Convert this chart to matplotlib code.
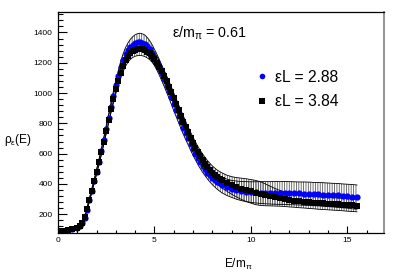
import numpy as np
import matplotlib
matplotlib.use("Agg")
import matplotlib.pyplot as plt
from matplotlib.ticker import MultipleLocator

plt.rcParams['font.family'] = ['Liberation Sans', 'DejaVu Sans']
plt.rcParams['mathtext.fontset'] = 'custom'
plt.rcParams['mathtext.rm'] = 'Liberation Sans'
plt.rcParams['mathtext.it'] = 'Liberation Sans'
plt.rcParams['mathtext.default'] = 'regular'
plt.rcParams['hatch.linewidth'] = 0.6

# energy grid E/m_pi (finer where the curve is steep)
energy = [0.0, 0.25, 0.5, 0.75,
          1.0, 1.125, 1.25, 1.375, 1.5, 1.625, 1.75, 1.875,
          2.0, 2.125, 2.25, 2.375, 2.5, 2.625, 2.75, 2.875,
          3.0, 3.125, 3.25, 3.375, 3.5, 3.625, 3.75, 3.875,
          4.0, 4.125, 4.25, 4.375, 4.5, 4.625, 4.75, 4.875,
          5.0, 5.125, 5.25, 5.375, 5.5, 5.625, 5.75, 5.875,
          6.0, 6.125, 6.25, 6.375, 6.5, 6.625, 6.75, 6.875,
          7.0, 7.125, 7.25, 7.375, 7.5, 7.625, 7.75, 7.875,
          8.0, 8.125, 8.25, 8.375, 8.5,
          8.75, 9.0, 9.25, 9.5, 9.75, 10.0, 10.25, 10.5, 10.75,
          11.0, 11.25, 11.5, 11.75, 12.0, 12.25, 12.5, 12.75,
          13.0, 13.25, 13.5, 13.75, 14.0, 14.25, 14.5, 14.75,
          15.0, 15.25, 15.5]

# eps L = 2.88 (blue)
rho_288 = [88, 91, 95, 101,
           110, 122, 140, 175, 230, 292, 355, 418,
           480, 547, 615, 687, 760, 835, 910, 982,
           1050, 1112, 1170, 1217, 1255, 1283, 1305, 1320,
           1330, 1335, 1337, 1333, 1325, 1310, 1290, 1265,
           1235, 1204, 1170, 1133, 1095, 1055, 1015, 973,
           930, 890, 850, 810, 770, 735, 700, 665,
           630, 600, 570, 543, 518, 496, 475, 457,
           440, 426, 413, 403, 393,
           378, 367, 359, 353, 349, 346, 344, 343, 342,
           341, 341, 340, 340, 339, 338, 337, 336,
           335, 333, 332, 330, 328, 326, 324, 321,
           319, 316, 313]
err_288 = [3, 3, 3, 3,
           3, 4, 5, 6, 8, 10, 12, 13,
           15, 17, 20, 22, 25, 27, 30, 32,
           35, 37, 40, 42, 45, 47, 50, 52,
           55, 57, 58, 58, 58, 57, 56, 55,
           54, 53, 52, 51, 50, 49, 48, 47,
           46, 46, 45, 45, 44, 44, 43, 43,
           42, 42, 42, 42, 42, 42, 43, 44,
           45, 46, 48, 50, 52,
           54, 56, 60, 63, 66, 68, 70, 72, 73,
           74, 75, 75, 76, 76, 76, 76, 77,
           77, 77, 77, 78, 78, 78, 79, 79,
           79, 80, 80]

# eps L = 3.84 (black)
rho_384 = [88, 92, 96, 102,
           112, 125, 145, 182, 235, 295, 355, 416,
           478, 543, 610, 680, 752, 824, 895, 962,
           1025, 1082, 1135, 1178, 1215, 1242, 1262, 1276,
           1285, 1289, 1290, 1288, 1283, 1274, 1262, 1245,
           1225, 1201, 1175, 1145, 1112, 1078, 1042, 1004,
           965, 927, 888, 850, 812, 776, 740, 705,
           672, 640, 610, 583, 557, 534, 512, 493,
           475, 460, 446, 434, 423,
           405, 390, 378, 368, 359, 351, 343, 336, 328,
           320, 312, 305, 299, 294, 290, 286, 283,
           280, 277, 274, 272, 270, 268, 266, 264,
           261, 259, 257]
err_384 = [3, 3, 3, 3,
           3, 4, 5, 6, 8, 9, 10, 11,
           13, 14, 16, 18, 20, 22, 25, 27,
           30, 32, 34, 36, 38, 39, 40, 41,
           42, 42, 42, 42, 42, 42, 41, 41,
           40, 40, 39, 39, 38, 38, 37, 37,
           36, 36, 36, 36, 36, 36, 36, 36,
           37, 37, 38, 39, 40, 41, 42, 43,
           44, 45, 46, 48, 50,
           53, 58, 64, 70, 75, 78, 80, 78, 72,
           65, 58, 52, 48, 46, 44, 43, 42,
           42, 41, 41, 41, 41, 41, 41, 41,
           41, 41, 41]

E = np.array(energy)

fig = plt.figure(figsize=(4.07, 2.76), dpi=100)
ax = fig.add_axes([58 / 407, 1 - 233 / 276, 326 / 407, 221 / 276])

for rho, err in [(rho_288, err_288), (rho_384, err_384)]:
    lo = np.array(rho) - np.array(err)
    hi = np.array(rho) + np.array(err)
    ax.fill_between(E, lo, hi, facecolor='none', edgecolor='0.35',
                    hatch='|' * 7, linewidth=0, zorder=1)
    ax.plot(E, lo, color='black', lw=0.6, zorder=2)
    ax.plot(E, hi, color='black', lw=0.6, zorder=2)

ax.plot(E, rho_288, 'o', color='#0000ff', ms=4.5, mew=0, zorder=3,
        label='εL = 2.88')
ax.plot(E, rho_384, 's', color='black', ms=4.2, mew=0, zorder=4,
        label='εL = 3.84')

ax.set_xlim(0, 16.9)
ax.set_ylim(76, 1535)
ax.xaxis.set_major_locator(MultipleLocator(5))
ax.xaxis.set_minor_locator(MultipleLocator(1))
ax.yaxis.set_major_locator(MultipleLocator(200))
ax.yaxis.set_minor_locator(MultipleLocator(40))
ax.set_yticks([200, 400, 600, 800, 1000, 1200, 1400])
ax.tick_params(axis='x', which='major', direction='in', length=5, width=0.8,
               labelsize=6, pad=3, top=False)
ax.tick_params(axis='x', which='minor', direction='in', length=2.5, width=0.8, top=False)
ax.tick_params(axis='y', which='major', direction='in', length=6.5, width=0.8,
               labelsize=6, pad=4, right=False)
ax.tick_params(axis='y', which='minor', direction='in', length=3.5, width=0.8, right=False)

for side in ['left', 'bottom', 'top']:
    ax.spines[side].set_linewidth(0.9)
ax.spines['right'].set_color('0.5')
ax.spines['right'].set_linewidth(1.2)

ax.set_xlabel('E/m$_{π}$', fontsize=8.5)
ax.xaxis.set_label_coords(0.554, -0.11)
ax.set_ylabel('ρ$_{ε}$(E)', fontsize=8.6, rotation=0, ha='left', va='center')
ax.yaxis.set_label_coords(-0.166, 0.42)

ax.text(0.35, 0.905, 'ε/m$_{π}$ = 0.61', transform=ax.transAxes,
        fontsize=10.3, ha='left', va='center')

ax.legend(loc='upper left', bbox_to_anchor=(0.6156, 0.7376), frameon=False,
          fontsize=11.3, handlelength=0.4, handletextpad=0.64,
          labelspacing=0.6, borderpad=0, borderaxespad=0, markerscale=0.9)

fig.savefig('out.png', dpi=100)
